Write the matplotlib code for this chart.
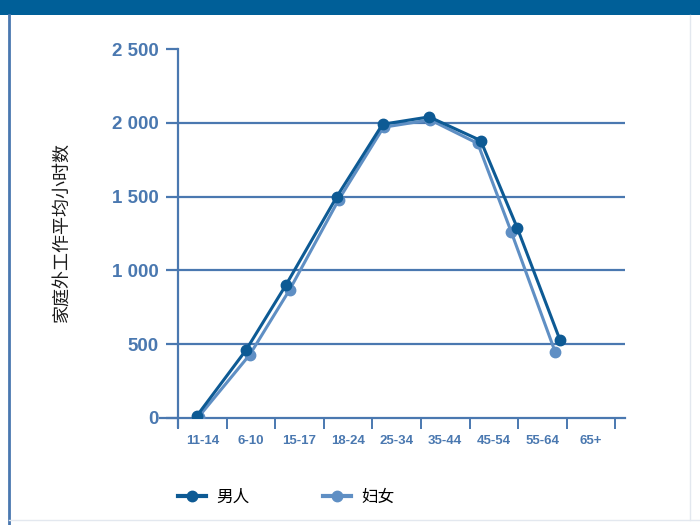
import matplotlib.pyplot as plt
from matplotlib.lines import Line2D
from matplotlib.patches import Rectangle

# 年龄组与平均工作时数
age_groups = ['11-14', '6-10', '15-17', '18-24', '25-34', '35-44', '45-54', '55-64', '65+']
age_pos = [0.39, 1.40, 2.22, 3.27, 4.21, 5.17, 6.23, 6.98, 7.86]
men_hours = [15, 460, 900, 1500, 1990, 2040, 1880, 1290, 530]
women_pos = [0.43, 1.48, 2.30, 3.31, 4.23, 5.19, 6.17, 6.86, 7.76]
women_hours = [10, 430, 870, 1480, 1970, 2020, 1860, 1260, 450]
y_ticks = [0, 500, 1000, 1500, 2000, 2500]
y_ticklabels = ['0', '500', '1 000', '1 500', '2 000', '2 500']

AXIS_BLUE = '#4a78b0'
MEN_BLUE = '#0d5a94'
WOMEN_BLUE = '#5f8fc4'

plt.rcParams['font.family'] = ['Noto Sans CJK SC', 'DejaVu Sans']

fig = plt.figure(figsize=(7, 5.25), dpi=100)
ax = fig.add_axes([160 / 700, 1 - 418 / 525, 465 / 700, 369 / 525])

# 横向网格线
for v in y_ticks[1:-1]:
    ax.plot([0, 9.2], [v, v], color=AXIS_BLUE, lw=1.6, zorder=1, solid_capstyle='butt')

ax.plot(women_pos, women_hours, color=WOMEN_BLUE, lw=2.2, marker='o', ms=7.5, zorder=3)
ax.plot(age_pos, men_hours, color=MEN_BLUE, lw=2.2, marker='o', ms=7.5, zorder=4)

ax.set_xlim(-0.37, 9.2)
ax.set_ylim(0, 2500)

for s in ['top', 'right']:
    ax.spines[s].set_visible(False)
ax.spines['left'].set_position(('data', 0))
ax.spines['left'].set_bounds(-60, 2500)
ax.spines['left'].set_color(AXIS_BLUE)
ax.spines['left'].set_linewidth(1.6)
ax.spines['bottom'].set_color(AXIS_BLUE)
ax.spines['bottom'].set_linewidth(1.6)

ax.set_yticks(y_ticks)
ax.set_yticklabels(y_ticklabels, fontfamily='Liberation Sans', fontweight='bold',
                   fontsize=13.5, color=AXIS_BLUE)
ax.tick_params(axis='y', length=9, width=1.6, color=AXIS_BLUE, pad=5)

ax.set_xticks(range(10))
ax.set_xticklabels([])
ax.set_xticks([i + 0.5 for i in range(len(age_groups))], minor=True)
ax.set_xticklabels(age_groups, minor=True, fontfamily='Liberation Sans',
                   fontweight='bold', fontsize=9.5, color=AXIS_BLUE)
ax.tick_params(axis='x', which='major', length=8, width=1.4, color=AXIS_BLUE)
ax.tick_params(axis='x', which='minor', length=0, pad=12)

fig.text(62 / 700, 1 - 232 / 525, '家庭外工作平均小时数', rotation=90,
         fontsize=13, color='#1a1a1a', ha='center', va='center')

handles = [
    Line2D([], [], color=MEN_BLUE, lw=3, marker='o', ms=7.5),
    Line2D([], [], color=WOMEN_BLUE, lw=3, marker='o', ms=7.5),
]
fig.legend(handles, ['男人', '妇女'], loc='center left', ncol=2,
           bbox_to_anchor=(163 / 700, 1 - 497 / 525), frameon=False,
           fontsize=12, handlelength=1.7, handletextpad=0.6, columnspacing=4.4)

# 外框：顶部色条和左侧边线
fig.patches.append(Rectangle((0, 1 - 15 / 525), 1, 15 / 525, transform=fig.transFigure,
                             facecolor='#005f98', edgecolor='none'))
fig.lines.append(Line2D([9 / 700, 9 / 700], [0, 1 - 15 / 525], transform=fig.transFigure,
                        color=AXIS_BLUE, lw=2))
fig.lines.append(Line2D([9 / 700, 1], [5 / 525, 5 / 525], transform=fig.transFigure,
                        color='#e3e8ef', lw=1))
fig.lines.append(Line2D([690 / 700, 690 / 700], [5 / 525, 1 - 15 / 525], transform=fig.transFigure,
                        color='#e3e8ef', lw=1))

fig.savefig('out.png', dpi=100)
